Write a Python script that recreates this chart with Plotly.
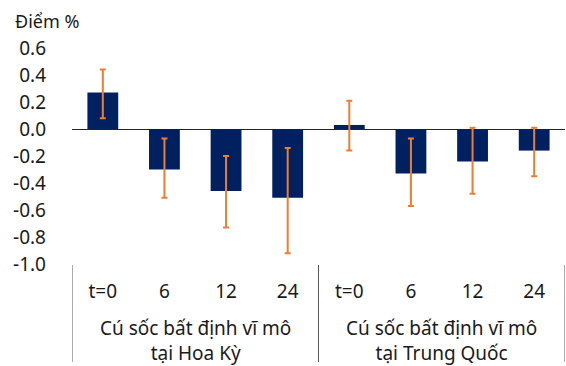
import plotly.graph_objects as go

# Impulse responses (percentage points) with confidence bands
horizons = ["t=0", "6", "12", "24", "t=0", "6", "12", "24"]
groups = ["Cú sốc bất định vĩ mô<br>tại Hoa Kỳ", "Cú sốc bất định vĩ mô<br>tại Trung Quốc"]
response = [0.27, -0.30, -0.46, -0.51, 0.03, -0.33, -0.24, -0.16]
band_low = [0.08, -0.51, -0.73, -0.92, -0.16, -0.57, -0.48, -0.35]
band_high = [0.44, -0.07, -0.20, -0.14, 0.21, -0.07, 0.01, 0.01]
y_ticks = [0.6, 0.4, 0.2, 0.0, -0.2, -0.4, -0.6, -0.8, -1.0]

NAVY = "#002060"
ORANGE = "#ED7D31"
FONT = "Noto Sans"
FSIZE = 19

pos = list(range(len(response)))
err_plus = [h - v for h, v in zip(band_high, response)]
err_minus = [v - l for v, l in zip(response, band_low)]

fig = go.Figure(
    go.Bar(
        x=pos,
        y=response,
        width=0.5,
        marker=dict(color=NAVY, line=dict(width=0)),
        error_y=dict(
            type="data",
            symmetric=False,
            array=err_plus,
            arrayminus=err_minus,
            color=ORANGE,
            thickness=2,
            width=3,
        ),
    )
)

W, H = 566, 366
L, R, T, B = 72, 1, 48, 102

fig.update_layout(
    width=W,
    height=H,
    margin=dict(l=L, r=R, t=T, b=B, pad=0),
    paper_bgcolor="white",
    plot_bgcolor="white",
    showlegend=False,
    font=dict(family=FONT, size=FSIZE, color="#1a1a1a"),
    bargap=0.5,
)

fig.update_yaxes(
    range=[-1.0, 0.6],
    tickvals=y_ticks,
    ticktext=[f"{v:.1f}" for v in y_ticks],
    showgrid=False,
    showline=False,
    ticks="",
    ticklabelstandoff=25,
    zeroline=True,
    zerolinecolor="#262626",
    zerolinewidth=1,
)

fig.update_xaxes(
    range=[-0.5, len(pos) - 0.5],
    tickvals=pos,
    ticktext=horizons,
    showgrid=False,
    showline=False,
    ticks="",
    ticklabelstandoff=14,
    zeroline=False,
)

plot_h = H - T - B

# Divider lines between the shock groups, running down through the labels
for xd in [-0.5, 3.5, len(pos) - 0.5]:
    fig.add_shape(
        type="line",
        xref="x",
        yref="paper",
        x0=xd,
        x1=xd,
        y0=-1 / plot_h,
        y1=-98 / plot_h,
        line=dict(color="#595959", width=1),
    )

# Group captions under the horizon labels
for gi, text in enumerate(groups):
    fig.add_annotation(
        x=gi * 4 + 1.5,
        xref="x",
        y=-76 / plot_h,
        yref="paper",
        text=text,
        showarrow=False,
        xanchor="center",
        yanchor="middle",
        font=dict(family=FONT, size=FSIZE, color="#1a1a1a"),
    )

# Unit label above the value axis
fig.add_annotation(
    x=(13 - L) / (W - L - R),
    xref="paper",
    y=(plot_h + T - 21) / plot_h,
    yref="paper",
    text="Điểm %",
    showarrow=False,
    xanchor="left",
    yanchor="middle",
    font=dict(family=FONT, size=18, color="#1a1a1a"),
)

fig.write_html("out.html")
